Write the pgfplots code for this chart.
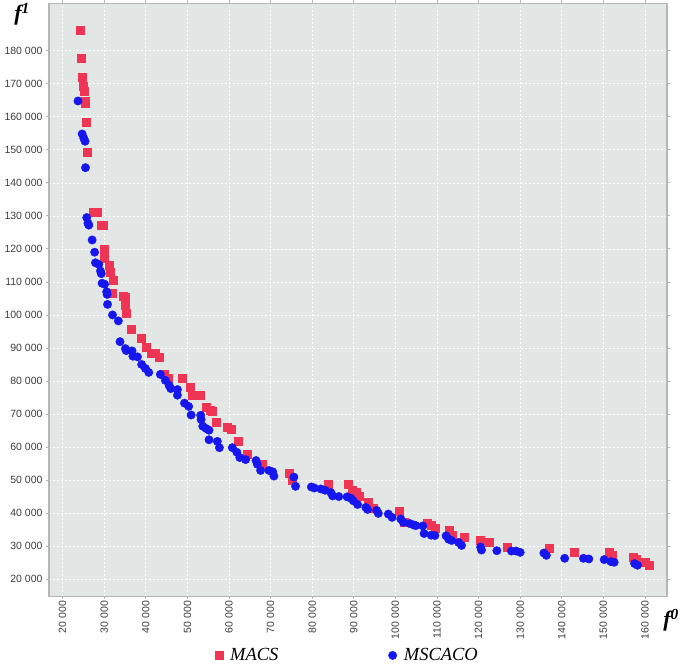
\documentclass[border=0pt]{standalone}
\usepackage{pgfplots}
\pgfplotsset{compat=1.18}
\usepackage{fontspec}
\setmainfont{Liberation Sans}
\newfontfamily\seriffont{Liberation Serif}
\usetikzlibrary{calc}
\definecolor{bgc}{RGB}{226,231,230}
\definecolor{macs}{RGB}{240,52,84}
\definecolor{msc}{RGB}{22,22,238}
\definecolor{framec}{RGB}{178,184,184}
\definecolor{tickc}{RGB}{60,60,60}
\begin{document}
\begin{tikzpicture}
\begin{axis}[
  scale only axis, width=618pt, height=593pt,
  xmin=16730, xmax=165300, ymin=14760, ymax=194350,
  clip=false,
  axis background/.style={fill=bgc},
  axis line style={framec, line width=1.5pt},
  grid=major,
  major grid style={white, dash pattern=on 2pt off 2pt, line width=0.7pt},
  xtick={20000,30000,...,160000},
  ytick={20000,30000,...,180000},
  tick align=outside, major tick length=3pt,
  tick style={framec, line width=0.8pt},
  scaled ticks=false,
  /pgf/number format/fixed,
  /pgf/number format/1000 sep={\ },
  /pgf/number format/assume math mode=true,
  ticklabel style={font=\fontsize{10.5}{12}\selectfont, text=tickc},
  xticklabel style={rotate=90, anchor=east, inner sep=1.5pt},
  legend columns=2,
  legend style={at={(0.483,-0.0995)}, anchor=center, draw=none, fill=none,
    font=\seriffont\itshape\fontsize{18.5}{20}\selectfont,
    /tikz/every odd column/.append style={column sep=5pt},
    /tikz/every even column/.append style={column sep=108pt}},
]
\addplot[only marks, mark=square*, mark size=4pt, color=macs, mark options={draw=macs, fill=macs}] coordinates {
(24200,186300)(24400,177900)(24700,172100)(24900,169400)(25200,167900)(25400,164800)(25500,164200)(25600,158500)(25900,149400)(27400,131200)(28200,131000)(29200,127300)(29700,127100)(29950,119800)(30100,117200)(31100,115100)(31400,112800)(32200,110500)(32000,106600)(34600,105800)(35000,105400)(35000,102900)(35400,100500)(36400,95800)(38900,93100)(40100,90200)(41400,88500)(42300,88500)(43300,87100)(44500,82000)(45300,80800)(48800,80800)(50600,78200)(51200,75600)(53000,75600)(54500,72100)(55400,71300)(56000,70800)(56900,67400)(59500,66100)(60600,65300)(62100,61800)(64300,57900)(68000,54900)(74400,52100)(75300,50000)(83800,48600)(88700,48600)(89500,46900)(90500,46300)(91300,45100)(93500,43400)(94700,41400)(101000,40600)(102200,37100)(107700,36800)(108700,36200)(109500,35500)(113000,34800)(113600,33200)(116500,32600)(120300,31700)(122600,31100)(126900,29800)(136900,29300)(143100,28100)(151300,28100)(152100,27100)(157100,26700)(158000,26100)(160100,25100)(160900,24200)
};
\addlegendentry{MACS}
\addplot[only marks, mark=*, mark size=4.2pt, color=msc, mark options={draw=msc, fill=msc}] coordinates {
(23700,164800)(24700,154800)(25100,153500)(25400,152600)(25500,144600)(25800,129500)(26100,127800)(26300,127200)(27100,122700)(27700,119000)(27900,115800)(28700,115300)(29100,113300)(29300,112500)(29500,109600)(30100,109300)(30600,107000)(30700,106200)(30800,103200)(32000,100000)(33400,98200)(33800,91900)(35100,89800)(35300,89200)(36700,89100)(36900,87500)(38000,87300)(39000,85000)(39900,83800)(40700,82600)(43500,82000)(44700,80200)(45600,78700)(46000,77700)(47600,77400)(47600,75700)(49300,73300)(50300,72300)(50900,69700)(53200,69600)(53300,68300)(53700,66300)(54500,65600)(55200,65100)(55200,62200)(57200,61700)(57700,59800)(60800,59800)(61900,58400)(62600,56800)(64000,56200)(66500,55900)(66800,54800)(67600,52900)(69600,52900)(70500,52500)(70800,51200)(75600,50900)(76000,48100)(79800,47900)(80500,47600)(82100,47300)(83100,46900)(84500,46200)(84900,45200)(86400,45000)(88400,44900)(89300,44500)(89900,43700)(90900,42600)(92900,41700)(93300,41100)(95500,40800)(95900,39900)(98300,39700)(99200,38700)(101300,38200)(101900,37200)(103500,36800)(104400,36400)(104900,36200)(106600,36100)(106900,33800)(108600,33300)(109500,33200)(112200,33100)(112800,32100)(113500,31700)(115200,31100)(115900,30200)(120500,29700)(120700,28800)(124400,28600)(127900,28500)(129000,28500)(130000,28100)(135700,27900)(136300,27200)(140700,26300)(145200,26300)(146500,26100)(150200,25900)(151800,25300)(152600,25100)(157500,24700)(158200,24200)
};
\addlegendentry{MSCACO}
\node[font=\seriffont\bfseries\itshape\fontsize{22}{22}\selectfont, inner sep=0pt] at (rel axis cs:-0.0436,0.9815) {f\textsuperscript{1}};
\node[font=\seriffont\bfseries\itshape\fontsize{22}{22}\selectfont, inner sep=0pt] at (rel axis cs:1.0065,-0.040) {f\textsuperscript{0}};
\end{axis}
\path ($(current axis.south west)+(-49pt,-65pt)$) rectangle ($(current axis.north east)+(18pt,3pt)$);
\end{tikzpicture}
\end{document}
